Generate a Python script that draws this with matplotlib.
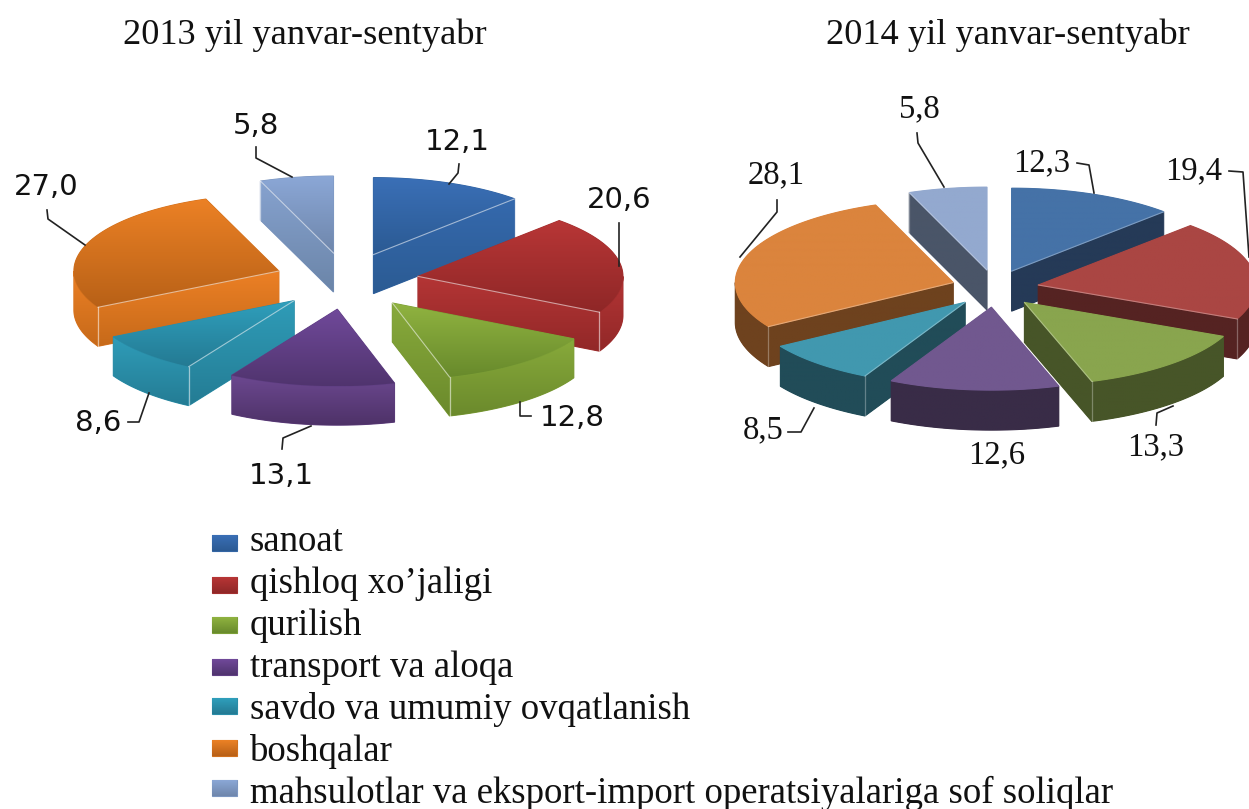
import matplotlib
matplotlib.use("Agg")
import matplotlib.pyplot as plt
from matplotlib.patches import Polygon
import numpy as np

categories = ['sanoat', 'qishloq xo’jaligi', 'qurilish', 'transport va aloqa',
              'savdo va umumiy ovqatlanish', 'boshqalar',
              'mahsulotlar va eksport-import operatsiyalariga sof soliqlar']
values_2013 = [12.1, 20.6, 12.8, 13.1, 8.6, 27.0, 5.8]
values_2014 = [12.3, 19.4, 13.3, 12.6, 8.5, 28.1, 5.8]
labels_2013 = ['12,1', '20,6', '12,8', '13,1', '8,6', '27,0', '5,8']
labels_2014 = ['12,3', '19,4', '13,3', '12,6', '8,5', '28,1', '5,8']
title_2013 = '2013 yil yanvar-sentyabr'
title_2014 = '2014 yil yanvar-sentyabr'

# Colours: (top face light, top face dark, side light, side dark)
colors_2013 = [('#3a6fb6', '#2b5a93', '#3569ad', '#2b5b93'),
               ('#b83636', '#8f2727', '#b43535', '#922828'),
               ('#90b340', '#688a2c', '#88aa3b', '#6b8a2c'),
               ('#70499a', '#50346e', '#6c4890', '#4e3268'),
               ('#2f9fbc', '#247a93', '#2f9cb8', '#247c94'),
               ('#ec8125', '#b86117', '#ec8025', '#c76a1a'),
               ('#8ba7d6', '#6f87ac', '#86a2cf', '#6b85a8')]
colors_2014 = [('#4572a7', '#4572a7', '#253a57', '#253a57'),
               ('#aa4643', '#aa4643', '#552322', '#552322'),
               ('#89a54e', '#89a54e', '#475528', '#475528'),
               ('#71588f', '#71588f', '#392c47', '#392c47'),
               ('#4198af', '#4198af', '#214c58', '#214c58'),
               ('#db843d', '#db843d', '#6e421e', '#6e421e'),
               ('#93a9cf', '#93a9cf', '#4a5568', '#4a5568')]

# label centres and leader lines
label_pos_2013 = [(457, 142), (619, 200), (572, 418), (281, 476), (98, 423), (46, 187), (256, 126)]
leaders_2013 = [[(459, 164), (458, 173), (449, 184)],
                [(619, 223), (619, 266)],
                [(520, 402), (520, 416), (531, 416)],
                [(282, 449), (283, 438), (311, 426)],
                [(128, 422), (139, 422), (149, 393)],
                [(47, 210), (48, 219), (85, 245)],
                [(256, 147), (256, 158), (292, 177)]]
label_pos_2014 = [(1042, 163), (1194, 171), (1156, 447), (997, 455), (763, 430), (776, 175), (919, 109)]
leaders_2014 = [[(1077, 163), (1089, 165), (1094, 193)],
                [(1229, 171), (1243, 172), (1249, 257)],
                [(1156, 425), (1157, 413), (1173, 406)],
                [],
                [(788, 432), (801, 432), (814, 408)],
                [(777, 200), (777, 212), (740, 257)],
                [(917, 133), (918, 143), (944, 187)]]

fig = plt.figure(figsize=(12.49, 8.09), dpi=100)
ax = fig.add_axes([0, 0, 1, 1])
ax.set_xlim(0, 1249)
ax.set_ylim(809, 0)
ax.axis('off')
ax.set_autoscale_on(False)


def shaded(verts, c0, c1, z):
    verts = np.array(verts)
    rgb0 = np.array(matplotlib.colors.to_rgb(c0))
    rgb1 = np.array(matplotlib.colors.to_rgb(c1))
    # thin outline in the middle colour hides the jagged image clip
    patch = Polygon(verts, closed=True, facecolor=(rgb0 + rgb1) / 2,
                    edgecolor=(rgb0 + rgb1) / 2, lw=0.8, zorder=z)
    ax.add_patch(patch)
    grad = np.linspace(0, 1, 64)[:, None, None]
    img = rgb0[None, None, :] * (1 - grad) + rgb1[None, None, :] * grad
    x0, y0 = verts.min(axis=0)
    x1, y1 = verts.max(axis=0)
    im = ax.imshow(img, extent=(x0, x1, y1, y0), aspect='auto', zorder=z,
                   interpolation='bilinear')
    im.set_clip_path(Polygon(verts, closed=True, transform=ax.transData))


def pie3d(values, colors, cx, cy, rx, ry, k, explode, depth, edge):
    angles = np.cumsum([0] + list(values)) / sum(values) * 360
    order = [6, 0, 5, 1, 4, 2, 3]  # back to front
    for n, i in enumerate(order):
        a, b = angles[i], angles[i + 1]
        mid = np.radians((a + b) / 2)
        ax0 = cx + explode * np.sin(mid)
        ay0 = cy - explode * k * np.cos(mid)
        t = np.radians(np.linspace(a, b, 60))
        px = ax0 + rx * np.sin(t)
        py = ay0 - ry * np.cos(t)
        top_l, top_d, side_l, side_d = colors[i]
        z = 2 + n

        def rim(ang):
            ang = np.radians(ang)
            return ax0 + rx * np.sin(ang), ay0 - ry * np.cos(ang)

        # outer wall, only the part that faces the viewer
        lo, hi = max(a, 90), min(b, 270)
        if lo < hi:
            tw = np.linspace(lo, hi, 50)
            wx, wy = rim(tw)
            wall = list(zip(wx, wy)) + list(zip(wx[::-1], wy[::-1] + depth))
            shaded(wall, side_l, side_d, z)
        # radial cut faces
        corners = []
        if np.sin(np.radians(b)) > 0:
            corners.append(b)
        if np.sin(np.radians(a)) < 0:
            corners.append(a)
        for c in corners:
            ex, ey = rim(c)
            face = [(ax0, ay0), (ex, ey), (ex, ey + depth), (ax0, ay0 + depth)]
            shaded(face, side_l, side_d, z)
        # top face
        shaded([(ax0, ay0)] + list(zip(px, py)), top_l, top_d, z)
        for c in corners:
            ex, ey = rim(c)
            ax.plot([ax0, ex], [ay0, ey], color='white', lw=0.8, alpha=edge, zorder=z)
            ax.plot([ex, ex], [ey, ey + depth], color='white', lw=0.9, alpha=edge, zorder=z)


pie3d(values_2013, colors_2013, 346.6, 281, 205, 77, 0.393, 72.3, 39, 0.55)
pie3d(values_2014, colors_2014, 995, 288.5, 218, 83, 0.425, 44, 40, 0.3)

for lab, pos, lead in zip(labels_2013, label_pos_2013, leaders_2013):
    ax.text(pos[0], pos[1], lab, family='DejaVu Sans', fontsize=21, color='#111111',
            ha='center', va='center', zorder=20)
    ax.plot([p[0] for p in lead], [p[1] for p in lead], color='#222222', lw=1.2, zorder=20)
for lab, pos, lead in zip(labels_2014, label_pos_2014, leaders_2014):
    ax.text(pos[0], pos[1], lab, family='Liberation Serif', fontsize=23.5, color='#111111',
            ha='center', va='center', zorder=20)
    if lead:
        ax.plot([p[0] for p in lead], [p[1] for p in lead], color='#222222', lw=1.2, zorder=20)

ax.text(305, 35, title_2013, family='Liberation Serif', fontsize=26.2, color='#111111',
        ha='center', va='center')
ax.text(1008, 35, title_2014, family='Liberation Serif', fontsize=26.2, color='#111111',
        ha='center', va='center')

# legend, same order as the slices
legend_y = [543, 585, 625, 667, 706, 748, 788]
legend_base = [551, 593, 635, 677, 719, 761, 803]
for i, (name, y, base) in enumerate(zip(categories, legend_y, legend_base)):
    shaded([(212, y - 8), (237, y - 8), (237, y + 8), (212, y + 8)],
           colors_2013[i][0], colors_2013[i][1], 5)
    ax.text(250, base, name, family='Liberation Serif', fontsize=26.5, color='#111111',
            ha='left', va='baseline')

fig.savefig('out.png', dpi=100)
